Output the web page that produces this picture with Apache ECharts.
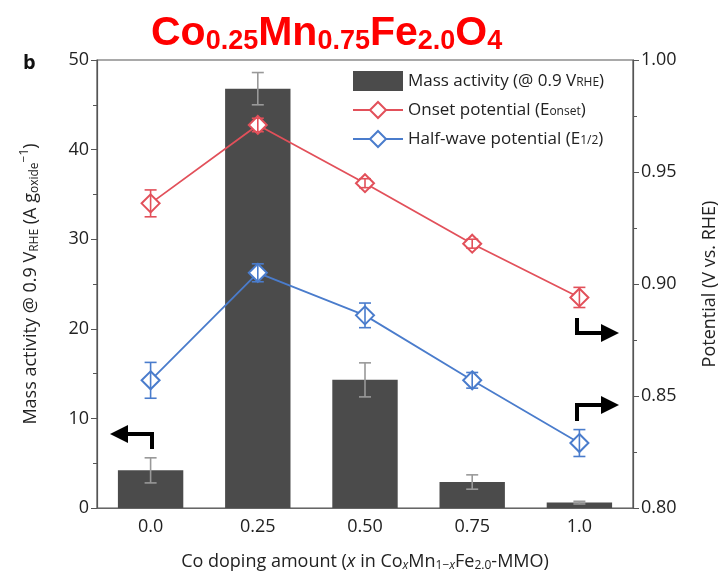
<!DOCTYPE html>
<html>
<head>
<meta charset="UTF-8">
<title>Co doping mass activity</title>
<script src="https://cdn.jsdelivr.net/npm/echarts@6.0.0/dist/echarts.min.js"></script>
<style>
  html, body { margin: 0; padding: 0; background: #fff; }
  #main { width: 725px; height: 572px; }
</style>
</head>
<body>
<div id="main"></div>
<script>
// data
const categories = ['0.0', '0.25', '0.50', '0.75', '1.0'];
const massActivity = [4.2, 46.8, 14.3, 2.9, 0.6];
const massActivityErr = [1.4, 1.8, 1.9, 0.8, 0.15];
const onsetPotential = [0.936, 0.971, 0.945, 0.918, 0.894];
const onsetErr = [0.006, 0.003, 0.002, 0.002, 0.0045];
const halfWavePotential = [0.857, 0.905, 0.886, 0.857, 0.829];
const halfWaveErr = [0.008, 0.004, 0.0055, 0.0035, 0.006];

const FONT = 'Open Sans';
const RED = '#e2505a';
const BLUE = '#4a7ccc';
const BAR = '#4b4b4b';

var chart = echarts.init(document.getElementById('main'));

// error bar as custom series: [index, value, err]
function errorBar(color, halfW) {
  return function (params, api) {
    var i = api.value(0);
    var v = api.value(1);
    var e = api.value(2);
    var hi = api.coord([i, v + e]);
    var lo = api.coord([i, v - e]);
    var st = { stroke: color, lineWidth: 1.6 };
    return {
      type: 'group',
      children: [
        { type: 'line', shape: { x1: hi[0], y1: hi[1], x2: lo[0], y2: lo[1] }, style: st },
        { type: 'line', shape: { x1: hi[0] - halfW, y1: hi[1], x2: hi[0] + halfW, y2: hi[1] }, style: st },
        { type: 'line', shape: { x1: lo[0] - halfW, y1: lo[1], x2: lo[0] + halfW, y2: lo[1] }, style: st }
      ]
    };
  };
}

function errData(vals, errs) {
  return vals.map(function (v, i) { return [i, v, errs[i]]; });
}

// bent arrows pointing at the axes
function arrow(pts, head) {
  return [
    { type: 'polyline', shape: { points: pts }, style: { stroke: '#000', lineWidth: 4, fill: null }, z: 20 },
    { type: 'polygon', shape: { points: head }, style: { fill: '#000' }, z: 20 }
  ];
}

var graphics = [].concat(
  arrow([[152, 449], [152, 434], [126, 434]], [[110, 434], [128, 425], [128, 443]]),
  arrow([[577, 318], [577, 333], [603, 333]], [[619, 333], [601, 324], [601, 342]]),
  arrow([[577, 421], [577, 405], [603, 405]], [[619, 405], [601, 396], [601, 414]]),
  [{
    type: 'text', left: 23, top: 53, z: 20,
    style: { text: 'b', font: 'bold 20px "Open Sans"', fill: '#111' }
  }]
);

var option = {
  backgroundColor: '#fff',
  textStyle: { fontFamily: FONT },
  title: {
    text: '{m|Co}{s|0.25}{m|Mn}{s|0.75}{m|Fe}{s|2.0}{m|O}{s|4}',
    left: 146,
    top: 8,
    textStyle: {
      rich: {
        m: { fontFamily: 'Liberation Sans', fontWeight: 'bold', fontSize: 41, color: '#ff0000', lineHeight: 42, verticalAlign: 'top' },
        s: { fontFamily: 'Liberation Sans', fontWeight: 'bold', fontSize: 27, color: '#ff0000', lineHeight: 16, verticalAlign: 'bottom' }
      }
    }
  },
  legend: {
    orient: 'vertical',
    left: 347,
    top: 66,
    itemWidth: 50,
    itemHeight: 20,
    itemGap: 9,
    data: [
      { name: 'Mass activity', icon: 'rect' },
      { name: 'Onset potential' },
      { name: 'Half-wave potential' }
    ],
    formatter: function (name) {
      if (name === 'Mass activity') return 'Mass activity (@ 0.9 V{sc|RHE})';
      if (name === 'Onset potential') return 'Onset potential (E{sc|onset})';
      return 'Half-wave potential (E{sc|1/2})';
    },
    textStyle: {
      fontFamily: FONT, fontSize: 17, color: '#222', lineHeight: 20,
      rich: { sc: { fontFamily: FONT, fontSize: 12, color: '#222', lineHeight: 20, padding: [3, 0, 0, 0] } }
    }
  },
  grid: {
    left: 97, right: 92, top: 60, bottom: 64,
    outerBoundsMode: 'none',
    containLabel: false,
    show: true, borderColor: '#555', borderWidth: 1.2
  },
  xAxis: {
    type: 'category',
    data: categories,
    axisLine: { lineStyle: { color: '#666', width: 1.2 } },
    axisTick: { show: false },
    axisLabel: { fontFamily: FONT, fontSize: 18, color: '#222', margin: 10 },
    name: 'Co doping amount ({i|x} in Co{si|x}Mn{sub|1−}{si|x}Fe{sub|2.0}-MMO)',
    nameLocation: 'middle',
    nameGap: 44,
    nameTextStyle: {
      fontFamily: FONT, fontSize: 18, color: '#222',
      rich: {
        i: { fontFamily: FONT, fontSize: 18, fontStyle: 'italic', color: '#222' },
        sub: { fontFamily: FONT, fontSize: 12, color: '#222', padding: [8, 0, 0, 0] },
        si: { fontFamily: FONT, fontSize: 12, fontStyle: 'italic', color: '#222', padding: [8, 0, 0, 0] }
      }
    }
  },
  yAxis: [
    {
      type: 'value',
      min: 0, max: 50, interval: 10,
      axisLine: { show: true, lineStyle: { color: '#555', width: 1.2 } },
      axisTick: { show: true, length: 6, lineStyle: { color: '#555' } },
      minorTick: { show: true, splitNumber: 2, length: 4, lineStyle: { color: '#555' } },
      splitLine: { show: false },
      axisLabel: { fontFamily: FONT, fontSize: 18, color: '#222', margin: 8 },
      name: 'Mass activity @ 0.9 V{sub|RHE} (A g{sub|oxide}{sup|−1})',
      nameLocation: 'middle',
      nameGap: 54,
      nameRotate: 90,
      nameTextStyle: {
        fontFamily: FONT, fontSize: 18, color: '#222',
        rich: {
          sub: { fontFamily: FONT, fontSize: 12, color: '#222', padding: [8, 0, 0, 0] },
          sup: { fontFamily: FONT, fontSize: 12, color: '#222', padding: [0, 0, 12, 0] }
        }
      }
    },
    {
      type: 'value',
      min: 0.8, max: 1.0, interval: 0.05,
      position: 'right',
      axisLine: { show: true, lineStyle: { color: '#555', width: 1.2 } },
      axisTick: { show: true, length: 6, lineStyle: { color: '#555' } },
      minorTick: { show: true, splitNumber: 2, length: 4, lineStyle: { color: '#555' } },
      splitLine: { show: false },
      axisLabel: {
        fontFamily: FONT, fontSize: 18, color: '#222', margin: 8,
        formatter: function (v) { return v.toFixed(2); }
      },
      name: 'Potential (V vs. RHE)',
      nameLocation: 'middle',
      nameGap: 68,
      nameRotate: 90,
      nameTextStyle: { fontFamily: FONT, fontSize: 18, color: '#222' }
    }
  ],
  series: [
    {
      name: 'Mass activity',
      type: 'bar',
      data: massActivity,
      barWidth: '61%',
      itemStyle: { color: BAR },
      z: 2
    },
    {
      name: 'Mass activity err',
      type: 'custom',
      renderItem: errorBar('#999999', 6),
      data: errData(massActivity, massActivityErr),
      encode: { x: 0, y: 1 },
      z: 3,
      silent: true
    },
    {
      name: 'Onset potential',
      type: 'line',
      yAxisIndex: 1,
      data: onsetPotential,
      symbol: 'emptyDiamond',
      symbolSize: 18,
      lineStyle: { color: RED, width: 1.8 },
      itemStyle: { color: RED, borderWidth: 1.8 },
      z: 4
    },
    {
      name: 'Onset err',
      type: 'custom',
      yAxisIndex: 1,
      renderItem: errorBar(RED, 6),
      data: errData(onsetPotential, onsetErr),
      encode: { x: 0, y: 1 },
      z: 5,
      silent: true
    },
    {
      name: 'Half-wave potential',
      type: 'line',
      yAxisIndex: 1,
      data: halfWavePotential,
      symbol: 'emptyDiamond',
      symbolSize: 18,
      lineStyle: { color: BLUE, width: 1.8 },
      itemStyle: { color: BLUE, borderWidth: 1.8 },
      z: 4
    },
    {
      name: 'Half-wave err',
      type: 'custom',
      yAxisIndex: 1,
      renderItem: errorBar(BLUE, 6),
      data: errData(halfWavePotential, halfWaveErr),
      encode: { x: 0, y: 1 },
      z: 5,
      silent: true
    }
  ],
  graphic: graphics
};

chart.setOption(option);
</script>
</body>
</html>
